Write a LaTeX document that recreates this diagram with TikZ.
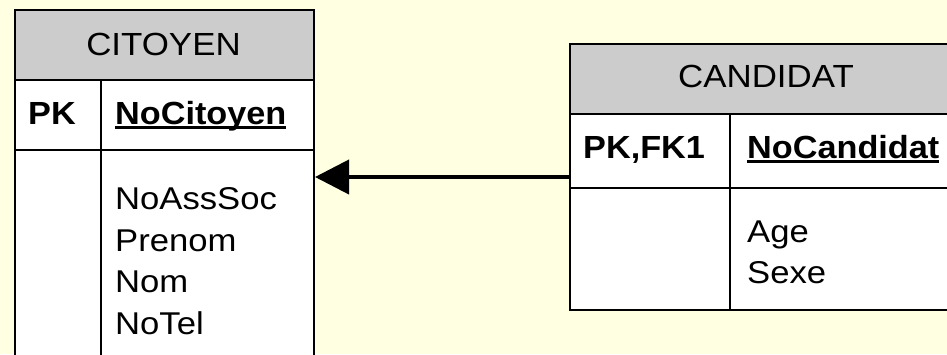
\documentclass[tikz,border=0pt]{standalone}
\usepackage{graphicx}
\usepackage{fontspec}
\setmainfont{Liberation Sans}
\usetikzlibrary{arrows.meta}
\definecolor{bgyellow}{RGB}{255,255,225}
\definecolor{hdrgray}{RGB}{204,204,204}
\newcommand\myul[1]{\setbox0\hbox{#1}\rlap{\rule[-4.5pt]{\wd0}{2.5pt}}\box0}
\newcommand\sxtitle[1]{\scalebox{1.09}[1]{#1}}
\newcommand\sxattr[1]{\scalebox{1.10}[1]{#1}}
\newcommand\sxkey[1]{\scalebox{1.07}[1]{#1}}
\tikzset{
  hdr/.style={draw=black, line width=2pt, fill=hdrgray, anchor=north west, inner sep=0pt},
  cellbox/.style={draw=black, line width=2pt, fill=white, anchor=north west, inner sep=0pt},
  frame/.style={anchor=north west, inner sep=0pt, outer sep=1pt},
  title/.style={anchor=base, inner sep=0pt, font=\fontsize{32}{38}\selectfont},
  keytxt/.style={anchor=base west, inner sep=0pt, font=\fontsize{32}{38}\selectfont\bfseries},
  attr/.style={anchor=base west, inner sep=0pt, font=\fontsize{31.5}{38}\selectfont},
  fkarrow/.style={line width=4pt, -{Triangle[length=34pt, width=34pt]}}
}
\begin{document}
\begin{tikzpicture}[x=1pt, y=-1pt]
\useasboundingbox[fill=bgyellow] (0,0) rectangle (947,354);
% CITOYEN
\node[frame, minimum width=299pt, minimum height=380pt] (cit) at (14,9) {};
\node[hdr, minimum width=299pt, minimum height=70pt] (cith) at (14,9) {};
\node[cellbox, minimum width=86pt, minimum height=70pt] (citpk) at (14,79) {};
\node[cellbox, minimum width=213pt, minimum height=70pt] (citkey) at (100,79) {};
\node[cellbox, minimum width=86pt, minimum height=240pt] (citbl) at (14,149) {};
\node[cellbox, minimum width=213pt, minimum height=240pt] (citbr) at (100,149) {};
\node[title] (citt) at (163.5,55) {\sxtitle{CITOYEN}};
\node[keytxt] (citpkt) at (28,124) {\sxkey{PK}};
\node[keytxt] (citkeyt) at (115,124) {\myul{\sxkey{NoCitoyen}}};
\node[attr] (a1) at (115,209) {\sxattr{NoAssSoc}};
\node[attr] (a2) at (115,251) {\sxattr{Prenom}};
\node[attr] (a3) at (115,292) {\sxattr{Nom}};
\node[attr] (a4) at (115,334) {\sxattr{NoTel}};
% CANDIDAT
\node[frame, minimum width=394pt, minimum height=266pt] (cand) at (569,43) {};
\node[hdr, minimum width=394pt, minimum height=70pt] (candh) at (569,43) {};
\node[cellbox, minimum width=160pt, minimum height=74pt] (candpk) at (569,113) {};
\node[cellbox, minimum width=234pt, minimum height=74pt] (candkey) at (729,113) {};
\node[cellbox, minimum width=160pt, minimum height=122pt] (candbl) at (569,187) {};
\node[cellbox, minimum width=234pt, minimum height=122pt] (candbr) at (729,187) {};
\node[title] (candt) at (766,87) {\sxtitle{CANDIDAT}};
\node[keytxt] (candpkt) at (583,158) {\sxkey{PK,FK1}};
\node[keytxt] (candkeyt) at (747,158) {\myul{\sxkey{NoCandidat}}};
\node[attr] (b1) at (747,242) {\sxattr{Age}};
\node[attr] (b2) at (747,283) {\sxattr{Sexe}};
% relation
\draw[fkarrow] (cand.west) -- (cand.west -| citbr.east);
\end{tikzpicture}
\end{document}
